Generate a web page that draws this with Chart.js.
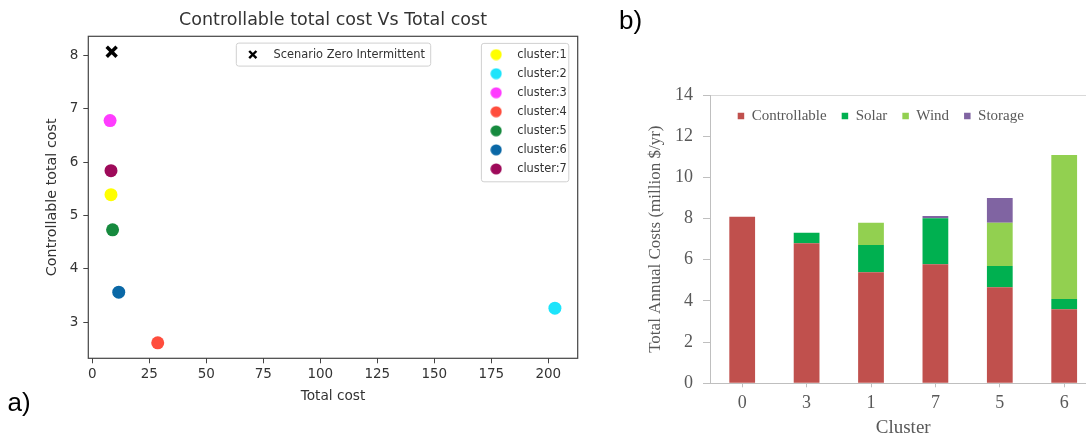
<!DOCTYPE html>
<html><head><meta charset="utf-8">
<script src="https://cdn.jsdelivr.net/npm/chart.js@4/dist/chart.umd.min.js"></script>
<style>
html,body{margin:0;padding:0;background:#fff;overflow:hidden;width:1086px;height:438px;position:relative;}
#wa{position:absolute;left:0;top:0;width:600px;height:438px;}
#wb{position:absolute;left:600px;top:0;width:500px;height:442px;}
.pl{position:absolute;font-family:'Liberation Sans',Arial,sans-serif;font-size:26px;color:#000;line-height:1;}
</style></head><body>
<div id="wa"><canvas id="ca"></canvas></div>
<div id="wb"><canvas id="cb"></canvas></div>
<div class="pl" style="left:7.5px;top:388.5px">a)</div>
<div class="pl" style="left:619px;top:6.6px">b)</div>
<script>
// ---------- data: panel a (scatter) ----------
const clusterNames = ['cluster:1','cluster:2','cluster:3','cluster:4','cluster:5','cluster:6','cluster:7'];
const clusterTotalCost = [8.2, 202.9, 7.8, 28.7, 8.9, 11.6, 8.2];
const clusterControllableCost = [5.39, 3.26, 6.78, 2.61, 4.73, 3.56, 5.84];
const scenarioName = 'Scenario Zero Intermittent';
const scenarioTotalCost = [8.5];
const scenarioControllableCost = [8.07];
const scatterTitle = 'Controllable total cost Vs Total cost';
const scatterXTitle = 'Total cost';
const scatterYTitle = 'Controllable total cost';

// ---------- data: panel b (stacked bars) ----------
const barClusters = ['0','3','1','7','5','6'];
const seriesNames = ['Controllable','Solar','Wind','Storage'];
const controllableCost = [8.09, 6.80, 5.39, 5.78, 4.66, 3.59];
const solarCost = [0, 0.51, 1.33, 2.23, 1.04, 0.50];
const windCost = [0, 0, 1.08, 0, 2.10, 7.00];
const storageCost = [0, 0, 0, 0.11, 1.20, 0];
const barXTitle = 'Cluster';
const barYTitle = 'Total Annual Costs (million $/yr)';

// ---------- styles ----------
const clusterColors = ['#ffff00','#1de4fb','#ff3cff','#ff4d3d','#168a3e','#0a68a6','#9e0a5a'];
const seriesColors = ['#c0504d','#00b050','#92d050','#8064a2'];
const FA = 'DejaVu Sans';
const FB = 'Liberation Serif';
const LEG_SIZE_A = 11.4, LEG_PAD_A = 7.65;
const LEG_SIZE_B = 15, LEG_PAD_B = 15;

function dotImage(color){
  const c = document.createElement('canvas'); c.width = 12; c.height = 12;
  const x = c.getContext('2d'); x.fillStyle = color; x.beginPath(); x.arc(6,6,5.6,0,Math.PI*2); x.fill();
  return c;
}
const dotImages = clusterColors.map(dotImage);

function rr(ctx, x, y, w, h, r){
  ctx.beginPath();
  if (ctx.roundRect) ctx.roundRect(x, y, w, h, r); else ctx.rect(x, y, w, h);
}

// ---------- panel a ----------
const dsA = clusterNames.map((n, i) => ({
  label: n,
  data: [{x: clusterTotalCost[i], y: clusterControllableCost[i]}],
  backgroundColor: clusterColors[i], borderColor: clusterColors[i],
  pointRadius: 6.5, pointHoverRadius: 6.5, borderWidth: 0
}));
dsA.push({
  label: scenarioName,
  data: [{x: scenarioTotalCost[0], y: scenarioControllableCost[0]}],
  pointStyle: 'crossRot', pointRadius: 7, pointHoverRadius: 7,
  borderColor: '#000', backgroundColor: '#000', borderWidth: 3.5
});

const decoA = {
  id: 'decoA',
  afterLayout(chart){
    const a = chart.chartArea, lg = chart.legend, ctx = chart.ctx;
    ctx.save(); ctx.font = LEG_SIZE_A + 'px "' + FA + '"';
    const maxW = Math.max(...clusterNames.map(n => ctx.measureText(n).width));
    const tw = ctx.measureText(scenarioName).width;
    ctx.restore();
    const right = a.right - 9.4;
    const left = right - (36.3 + maxW + 1.5);
    const top = a.top + 6.6;
    const first = top + 11.7;
    lg.left = left - LEG_PAD_A;
    lg.top = first - LEG_SIZE_A/2 - LEG_PAD_A;
    chart.$cf = {left, top, right, bottom: first + (clusterNames.length-1)*(LEG_SIZE_A+LEG_PAD_A) + 12.4};
    const w = 37.7 + tw + 5.3, cx = (a.left + a.right)/2;
    chart.$sf = {left: cx - w/2, top: a.top + 6.3, right: cx + w/2, bottom: a.top + 29.3};
  },
  beforeDraw(chart){
    const ctx = chart.ctx;
    [chart.$cf, chart.$sf].forEach(f => {
      ctx.save();
      rr(ctx, f.left + 0.5, f.top + 0.5, f.right - f.left, f.bottom - f.top, 2.5);
      ctx.fillStyle = 'rgba(255,255,255,0.8)'; ctx.fill();
      ctx.strokeStyle = '#d0d0d0'; ctx.lineWidth = 1; ctx.stroke();
      ctx.restore();
    });
  },
  beforeDatasetsDraw(chart){
    const a = chart.chartArea, ctx = chart.ctx;
    ctx.save(); ctx.strokeStyle = '#444'; ctx.lineWidth = 1.2;
    ctx.strokeRect(a.left, a.top, a.right - a.left, a.bottom - a.top);
    ctx.restore();
  },
  afterDraw(chart){
    const f = chart.$sf, ctx = chart.ctx, cy = f.top + 12, mx = f.left + 17, r = 3.6;
    ctx.save();
    ctx.strokeStyle = '#000'; ctx.lineWidth = 2.4;
    ctx.beginPath();
    ctx.moveTo(mx - r, cy - r); ctx.lineTo(mx + r, cy + r);
    ctx.moveTo(mx + r, cy - r); ctx.lineTo(mx - r, cy + r);
    ctx.stroke();
    ctx.fillStyle = '#333'; ctx.font = LEG_SIZE_A + 'px "' + FA + '"';
    ctx.textBaseline = 'middle'; ctx.textAlign = 'left';
    ctx.fillText(scenarioName, f.left + 37.7, cy);
    ctx.restore();
  }
};

new Chart(document.getElementById('ca'), {
  type: 'scatter',
  data: {datasets: dsA},
  options: {
    responsive: true, maintainAspectRatio: false, animation: false, events: [],
    layout: {padding: {left: 39.6, right: 22.3, top: 0, bottom: 0}},
    scales: {
      x: {
        type: 'linear', position: 'bottom', min: -1.75, max: 212.9,
        ticks: {stepSize: 25, includeBounds: false, color: '#333', font: {family: FA, size: 13.5}, padding: 3.5, maxRotation: 0},
        grid: {drawOnChartArea: false, color: '#444', tickColor: '#444', tickLength: 5},
        border: {display: false},
        title: {display: true, text: scatterXTitle, color: '#333', font: {family: FA, size: 13.7}, padding: {top: 4, bottom: 33.6}},
        afterFit(s){ s.height = 79.7; }
      },
      y: {
        type: 'linear', min: 2.32, max: 8.36,
        ticks: {stepSize: 1, includeBounds: false, color: '#333', font: {family: FA, size: 13.5}, padding: 5},
        grid: {drawOnChartArea: false, color: '#444', tickColor: '#444', tickLength: 5},
        border: {display: false},
        title: {display: true, text: scatterYTitle, color: '#333', font: {family: FA, size: 14.3}, padding: {top: 4, bottom: 4}},
        afterFit(s){ s.width = 48.7; }
      }
    },
    plugins: {
      title: {display: true, text: scatterTitle, fullSize: false, color: '#333', font: {family: FA, size: 17.5, weight: 'normal'}, padding: {top: 10, bottom: 5.3}},
      tooltip: {enabled: false},
      legend: {
        position: 'chartArea', align: 'start',
        labels: {
          usePointStyle: true, pointStyleWidth: 30.6, boxHeight: LEG_SIZE_A,
          font: {family: FA, size: LEG_SIZE_A}, color: '#333', padding: LEG_PAD_A,
          filter: (item) => item.datasetIndex < clusterNames.length,
          generateLabels(chart){
            const items = Chart.defaults.plugins.legend.labels.generateLabels(chart);
            items.forEach(it => { if (it.datasetIndex < clusterNames.length) it.pointStyle = dotImages[it.datasetIndex]; });
            return items;
          }
        }
      }
    }
  },
  plugins: [decoA]
});

// ---------- panel b ----------
const seriesData = [controllableCost, solarCost, windCost, storageCost];
const moveLegendB = {
  id: 'moveLegendB',
  afterLayout(chart){
    const lg = chart.legend, a = chart.chartArea;
    lg.left = a.left + 27.7 - LEG_PAD_B;
    lg.top = a.top + 21 - LEG_PAD_B - LEG_SIZE_B/2;
    lg.right = lg.left + lg.width;
    lg.bottom = lg.top + lg.height;
  }
};

new Chart(document.getElementById('cb'), {
  type: 'bar',
  data: {
    labels: barClusters,
    datasets: seriesNames.map((n, i) => ({
      label: n, data: seriesData[i], backgroundColor: seriesColors[i], borderWidth: 0,
      barPercentage: 0.4, categoryPercentage: 1
    }))
  },
  options: {
    responsive: true, maintainAspectRatio: false, animation: false, events: [],
    layout: {padding: {left: 41.3, right: 3.6, top: 55, bottom: 0}},
    scales: {
      x: {
        stacked: true, offset: true,
        grid: {display: true, drawOnChartArea: false, offset: false, color: '#bfbfbf', tickColor: '#bfbfbf', tickLength: 4},
        border: {display: true, color: '#bfbfbf', width: 1},
        ticks: {color: '#595959', font: {family: FB, size: 18}, padding: 5.2},
        title: {display: true, text: barXTitle, color: '#595959', font: {family: FB, size: 19}, padding: {top: 0, bottom: 2.3}},
        afterFit(s){ s.height = 58.7; }
      },
      y: {
        stacked: true, min: 0, max: 14,
        ticks: {stepSize: 2, color: '#595959', font: {family: FB, size: 18}, padding: 10},
        grid: {color: (c) => (c.tick && c.tick.value === 14) ? '#d9d9d9' : 'rgba(0,0,0,0)', tickColor: '#bfbfbf', tickLength: 7},
        border: {display: true, color: '#bfbfbf', width: 1},
        title: {display: true, text: barYTitle, color: '#595959', font: {family: FB, size: 17}, padding: {top: 4, bottom: 4}},
        afterFit(s){ s.width = 68.7; }
      }
    },
    plugins: {
      tooltip: {enabled: false},
      legend: {
        position: 'top', align: 'start',
        labels: {boxWidth: 6.5, boxHeight: 6.5, font: {family: FB, size: LEG_SIZE_B}, color: '#595959', padding: LEG_PAD_B}
      }
    }
  },
  plugins: [moveLegendB]
});
</script>
</body></html>
